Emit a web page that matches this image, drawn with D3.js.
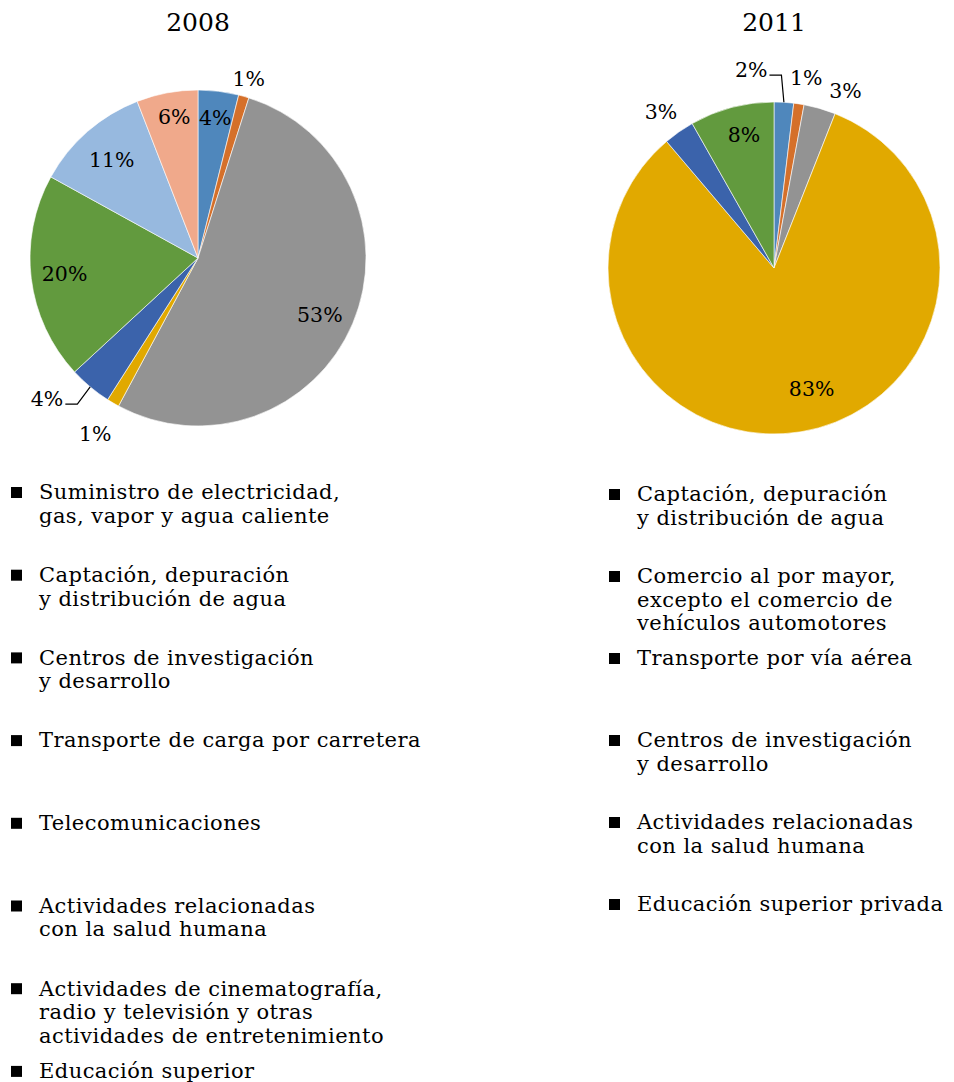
<!DOCTYPE html>
<html>
<head>
<meta charset="utf-8">
<script src="https://cdn.jsdelivr.net/npm/d3@7"></script>
<style>
  body { margin: 0; background: #fff; }
  svg text { font-family: "DejaVu Serif", serif; fill: #000; }
</style>
</head>
<body>
<div class="svgContainer"></div>
<script>
// Data
var YEARS = ["2008", "2011"];

var SECTORS_2008 = [
    "Suministro de electricidad,|gas, vapor y agua caliente",
    "Captación, depuración|y distribución de agua",
    "Centros de investigación|y desarrollo",
    "Transporte de carga por carretera",
    "Telecomunicaciones",
    "Actividades relacionadas|con la salud humana",
    "Actividades de cinematografía,|radio y televisión y otras|actividades de entretenimiento",
    "Educación superior"
];
var VALUES_2008 = [3.9, 1.0, 53.0, 1.2, 4.1, 19.9, 11.1, 5.9];
var LABELS_2008 = ["4%", "1%", "53%", "1%", "4%", "20%", "11%", "6%"];

var SECTORS_2011 = [
    "Captación, depuración|y distribución de agua",
    "Comercio al por mayor,|excepto el comercio de|vehículos automotores",
    "Transporte por vía aérea",
    "Centros de investigación|y desarrollo",
    "Actividades relacionadas|con la salud humana",
    "Educación superior privada"
];
var VALUES_2011 = [1.9, 1.0, 3.1, 82.8, 3.0, 8.2];
var LABELS_2011 = ["2%", "1%", "3%", "83%", "3%", "8%"];

var COLORS = ["#4F87BC", "#D5702A", "#939393", "#E1A900", "#3B63AB", "#629A3E", "#97B9DF", "#F0A98B"];

// label placement: radius factor, angle shift (deg), leader line
var PLACE_2008 = [
    {r: 0.84, da: 0}, {r: 1.11, da: 0}, {r: 0.80, da: 2}, {r: 1.21, da: 0},
    {r: 1.23, da: 7, leader: true}, {r: 0.80, da: 0}, {r: 0.78, da: 0}, {r: 0.85, da: 1}
];
var PLACE_2011 = [
    {r: 1.20, da: -10, leader: true}, {r: 1.16, da: 1}, {r: 1.15, da: 6},
    {r: 0.76, da: -8}, {r: 1.16, da: -1}, {r: 0.82, da: 2}
];

var W = 954, H = 1082;

var svg = d3.select(".svgContainer").append("svg")
    .attr("width", W)
    .attr("height", H);

var pie = d3.pie().sort(null).value(function(d) { return d; });

function drawPie(cx, cy, radius, title, values, labels, place) {
    var g = svg.append("g").attr("transform", "translate(" + cx + "," + cy + ")");
    var arc = d3.arc().innerRadius(0).outerRadius(radius);
    var arcs = pie(values);

    g.selectAll("path")
        .data(arcs)
        .enter().append("path")
        .attr("d", arc)
        .attr("fill", function(d, i) { return COLORS[i]; })
        .attr("stroke", "#fff")
        .attr("stroke-width", 0.6);

    svg.append("text")
        .attr("x", cx)
        .attr("y", 22)
        .attr("text-anchor", "middle")
        .attr("dy", "0.35em")
        .attr("font-size", 25)
        .text(title);

    arcs.forEach(function(d, i) {
        var p = place[i];
        var mid = (d.startAngle + d.endAngle) / 2;
        var a = mid + p.da * Math.PI / 180;
        var lx = Math.sin(a) * radius * p.r;
        var ly = -Math.cos(a) * radius * p.r;
        var t = g.append("text")
            .attr("x", lx)
            .attr("y", ly)
            .attr("text-anchor", "middle")
            .attr("dy", "0.35em")
            .attr("font-size", 20.5)
            .text(labels[i]);
        if (p.leader) {
            var w = t.node().getComputedTextLength();
            var sx = lx + w / 2 + 2, sy = ly + 5;
            var ex = Math.sin(mid) * radius, ey = -Math.cos(mid) * radius;
            g.append("path")
                .attr("d", d3.line()([[sx, sy], [sx + 12, sy], [ex, ey]]))
                .attr("fill", "none")
                .attr("stroke", "#000")
                .attr("stroke-width", 1.2);
        }
    });
}

function drawLegend(x, y0, step, items) {
    var g = svg.append("g").attr("transform", "translate(" + x + "," + y0 + ")");
    items.forEach(function(name, i) {
        var y = i * step;
        g.append("rect")
            .attr("x", -1)
            .attr("y", y - 5)
            .attr("width", 11)
            .attr("height", 11)
            .attr("fill", "#000");
        var lines = name.split("|");
        var t = g.append("text")
            .attr("font-size", 21)
            .attr("letter-spacing", 0.45);
        lines.forEach(function(l, j) {
            t.append("tspan")
                .attr("x", 27)
                .attr("y", y + j * 23.5)
                .attr("dy", "0.35em")
                .text(l);
        });
    });
}

drawPie(198, 258, 168, YEARS[0], VALUES_2008, LABELS_2008, PLACE_2008);
drawPie(774, 268, 166, YEARS[1], VALUES_2011, LABELS_2011, PLACE_2011);

drawLegend(12, 492, 82.7, SECTORS_2008);
drawLegend(610, 494, 82, SECTORS_2011);
</script>
</body>
</html>
